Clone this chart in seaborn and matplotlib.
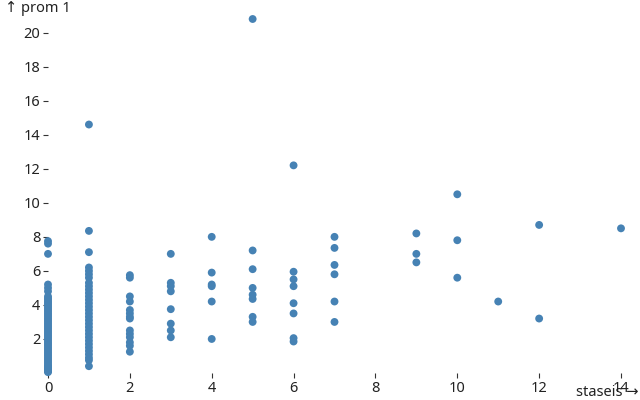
import matplotlib
matplotlib.use("Agg")
import matplotlib.pyplot as plt
import seaborn as sns
import pandas as pd

# Data
staseis_0 = [0.05, 0.1, 0.15, 0.2, 0.3, 0.35, 0.4, 0.5, 0.6, 0.7, 0.8, 0.9, 1.0, 1.1,
             1.2, 1.3, 1.4, 1.5, 1.6, 1.7, 1.8, 1.9, 2.0, 2.1, 2.2, 2.3, 2.4, 2.5, 2.6,
             2.7, 2.8, 2.9, 3.0, 3.1, 3.2, 3.3, 3.4, 3.5, 3.6, 3.7, 3.8, 3.9, 4.0, 4.1,
             4.2, 4.3, 4.4, 4.5, 4.8, 5.0, 5.2, 7.0, 7.6, 7.75]
staseis_1 = [14.6, 8.35, 7.1, 6.2, 6.0, 5.8, 5.6, 5.3, 5.1, 4.9, 4.7, 4.5, 4.3, 4.1,
             3.9, 3.7, 3.5, 3.3, 3.1, 2.9, 2.7, 2.5, 2.3, 2.1, 1.9, 1.7, 1.5, 1.3,
             1.1, 0.9, 0.75, 0.4]
staseis_2 = [5.75, 5.6, 4.5, 4.2, 3.7, 3.5, 3.3, 3.2, 2.5, 2.3, 2.1, 1.8, 1.6, 1.25]
staseis_3 = [7.0, 5.3, 5.1, 4.8, 3.75, 2.9, 2.5, 2.1]
staseis_4 = [8.0, 5.9, 5.2, 5.1, 4.2, 2.0]
staseis_5 = [20.8, 7.2, 6.1, 5.0, 4.6, 4.35, 3.3, 3.0]
staseis_6 = [12.2, 5.95, 5.5, 5.1, 4.1, 3.5, 2.05, 1.85]
staseis_7 = [8.0, 7.35, 6.35, 5.8, 4.2, 3.0]
staseis_9 = [8.2, 7.0, 6.5]
staseis_10 = [10.5, 7.8, 5.6]
staseis_11 = [4.2]
staseis_12 = [8.7, 3.2]
staseis_14 = [8.5]

groups = {0: staseis_0, 1: staseis_1, 2: staseis_2, 3: staseis_3, 4: staseis_4,
          5: staseis_5, 6: staseis_6, 7: staseis_7, 9: staseis_9, 10: staseis_10,
          11: staseis_11, 12: staseis_12, 14: staseis_14}
rows = [(k, v) for k, vals in groups.items() for v in vals]
df = pd.DataFrame(rows, columns=["staseis", "prom 1"])

x_ticks = [0, 2, 4, 6, 8, 10, 12, 14]
y_ticks = [2, 4, 6, 8, 10, 12, 14, 16, 18, 20]

sns.set_theme(style="white")
plt.rcParams['font.family'] = ['Noto Sans', 'DejaVu Sans']

fig = plt.figure(figsize=(6.4, 4.0), dpi=100)
ax = fig.add_axes([48/640, 27/400, (621-48)/640, (373-19)/400])

sns.scatterplot(data=df, x="staseis", y="prom 1", ax=ax, color="#4682b4",
                s=32, linewidth=0, edgecolor="none", clip_on=False)

ax.set_xlim(0, 14)
ax.set_ylim(0, 20.8)
for sp in ax.spines.values():
    sp.set_visible(False)

ax.set_xticks(x_ticks)
ax.set_yticks(y_ticks)
ax.tick_params(axis="both", which="both", length=3.5, width=0.8, color="#333333",
               labelsize=10.5, labelcolor="#222222")
ax.tick_params(axis="y", left=True, pad=2)
ax.tick_params(axis="x", bottom=True, pad=2)
ax.set_xlabel("")
ax.set_ylabel("")
ax.grid(False)

fig.text(5/640, 1 - 9/400, "↑ prom 1", fontsize=10.5, color="#222222",
         ha="left", va="center")
fig.text(638/640, 1 - 393/400, "staseis →", fontsize=10.5, color="#222222",
         ha="right", va="center")

fig.savefig("out.png", dpi=100)
